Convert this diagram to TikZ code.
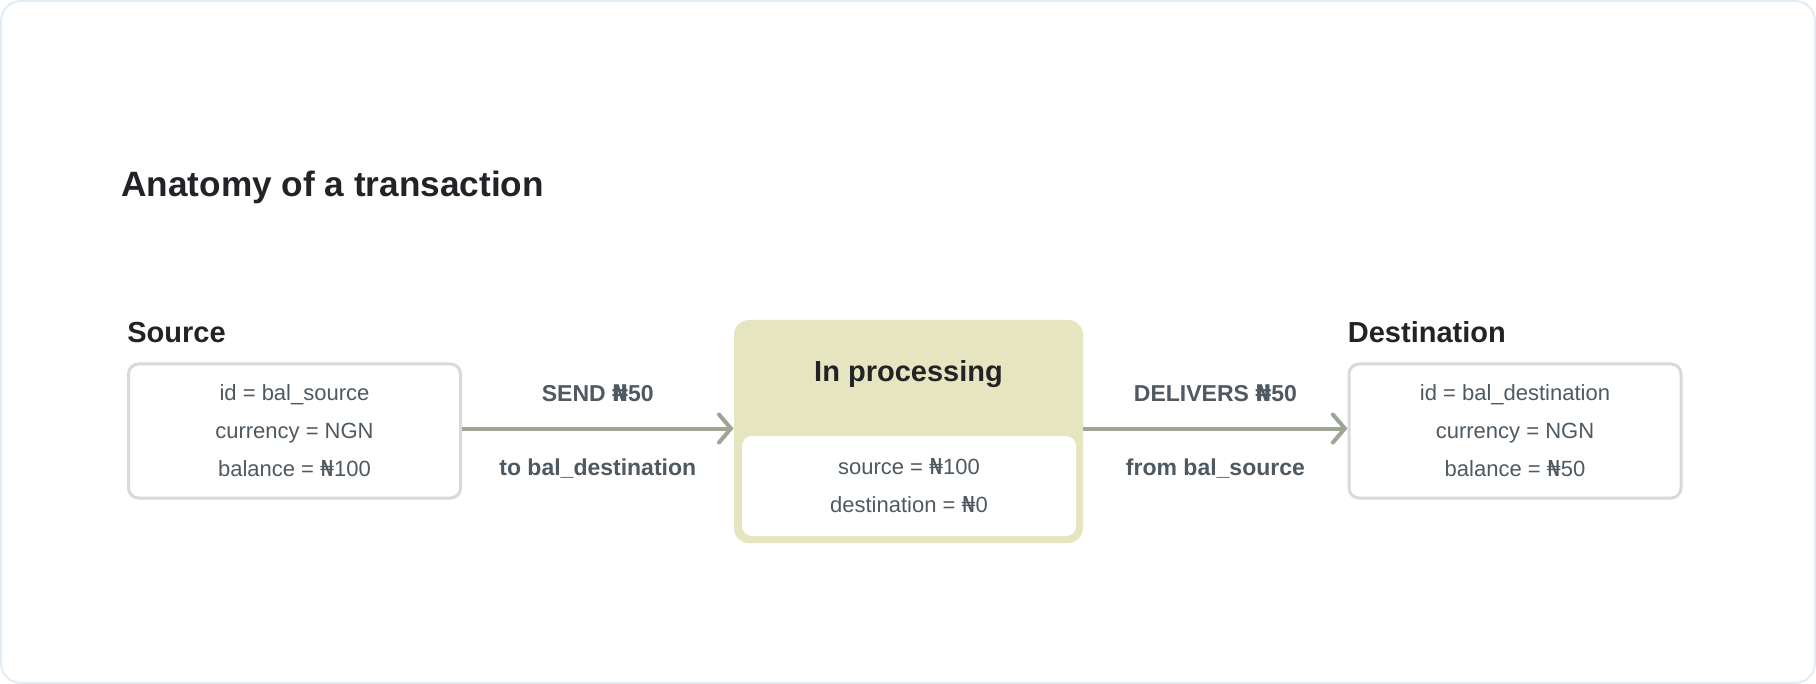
\documentclass[tikz,border=0pt]{standalone}
\usepackage{fontspec}
\setmainfont{Liberation Sans}
\newfontfamily\nairafont{DejaVu Sans}
\newcommand{\naira}{{\nairafont ₦}}
\usetikzlibrary{arrows.meta, positioning}
\definecolor{frameblue}{RGB}{226, 236, 245}
\definecolor{edgegray}{RGB}{217, 217, 217}
\definecolor{arrowsage}{RGB}{158, 166, 147}
\definecolor{procolive}{RGB}{229, 229, 191}
\definecolor{textslate}{RGB}{78, 89, 97}
\definecolor{inkdark}{RGB}{34, 35, 38}

\begin{document}
\begin{tikzpicture}[x=0.5pt, y=-0.5pt,
  heading/.style={font=\fontsize{14.5}{17}\selectfont\bfseries, text=inkdark, inner sep=0pt},
  acct/.style={draw=edgegray, line width=1.5pt, rounded corners=5pt, fill=white,
    minimum width=166pt, minimum height=67pt, align=center, text=textslate,
    font=\fontsize{11}{19}\selectfont},
  flow/.style={draw=arrowsage, line width=2pt,
    -{Straight Barb[length=6pt, width=14pt, line width=2pt, line cap=round]}},
  flowlabel/.style={font=\fontsize{11.5}{14}\selectfont\bfseries, text=textslate}]
  \useasboundingbox (0,0) rectangle (1816,684);
  % outer frame
  \draw[frameblue, line width=1pt, rounded corners=10pt, fill=white] (1,1) rectangle (1815,683);

  % title
  \node[anchor=base west, inner sep=0pt, text=inkdark, font=\fontsize{17.6}{22}\selectfont\bfseries]
    (title) at (121,197) {Anatomy of a transaction};

  % balances
  \node[acct] (srcbox) at (294.5,431) {id = bal\_source\\currency = NGN\\balance = \naira100};
  \node[acct] (dstbox) at (1515,431) {id = bal\_destination\\currency = NGN\\balance = \naira50};
  \node[heading, anchor=base west] (srchead) at ([yshift=10pt]srcbox.north west) {Source};
  \node[heading, anchor=base west] (dsthead) at ([yshift=10pt]dstbox.north west) {Destination};

  % processing box
  \node[fill=procolive, rounded corners=7.5pt, minimum width=174.5pt, minimum height=111.5pt]
    (procbox) at (908.5,431.5) {};
  \node[fill=white, rounded corners=5pt, minimum width=167pt, minimum height=50pt, align=center,
    text=textslate, font=\fontsize{11}{19}\selectfont]
    (procvals) at (909,486) {source = \naira100\\destination = \naira0};
  \node[heading] (prochead) at (908.5,374) {In processing};

  % transfers
  \draw[flow] ([yshift=1.25pt]srcbox.east) -- ([yshift=1.25pt]srcbox.east -| procbox.west)
    node[flowlabel, midway, above=9pt] (sendlbl) {SEND \naira50}
    node[flowlabel, midway, below=11pt] (tolbl) {to bal\_destination};
  \draw[flow] ([yshift=1.25pt]procbox.east |- dstbox.west) -- ([yshift=1.25pt]dstbox.west)
    node[flowlabel, midway, above=9pt] (dellbl) {DELIVERS \naira50}
    node[flowlabel, midway, below=11pt] (fromlbl) {from bal\_source};
\end{tikzpicture}
\end{document}
